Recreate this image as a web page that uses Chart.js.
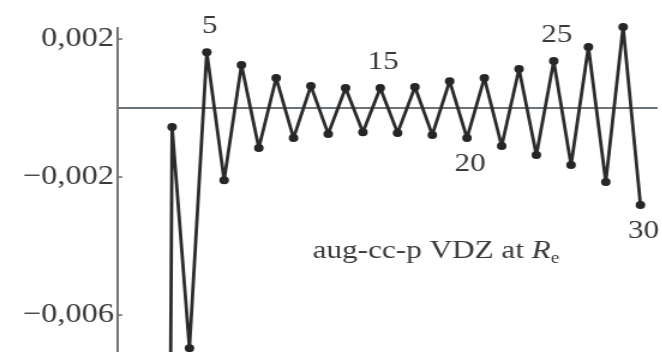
<!DOCTYPE html>
<html>
<head>
<meta charset="utf-8">
<script src="https://cdn.jsdelivr.net/npm/chart.js@4"></script>
<style>
  html, body { margin: 0; padding: 0; background: #fff; overflow: hidden; }
  /* the scanned figure is a bit wider than tall, so the canvas is stretched sideways */
  #wrap { width: 552px; height: 352px; transform: scaleX(1.2); transform-origin: 0 0; }
</style>
</head>
<body>
<div id="wrap"><canvas id="chart" width="552" height="352"></canvas></div>
<script>
// order of the term and its value (points 1 and 2 lie far below the frame)
const orders = [1, 2, 3, 4, 5, 6, 7, 8, 9, 10, 11, 12, 13, 14, 15,
                16, 17, 18, 19, 20, 21, 22, 23, 24, 25, 26, 27, 28, 29, 30];
const values = [-0.02, -0.08, -0.00055, -0.00696, 0.00162, -0.00209, 0.00125, -0.00116,
                0.00087, -0.00087, 0.00064, -0.00075, 0.00058, -0.00070, 0.00058, -0.00072,
                0.00061, -0.00078, 0.00078, -0.00087, 0.00087, -0.00110, 0.00113, -0.00136,
                0.00136, -0.00165, 0.00177, -0.00214, 0.00235, -0.00281];
const yTicks = [0.002, -0.002, -0.006];
// orders that get a number written next to them
const markedOrders = [5, 15, 20, 25, 30];
const markedSide = ['above', 'above', 'below', 'above', 'below'];
const captionText = 'aug-cc-p VDZ at ';
const captionSymbol = 'R';
const captionSub = 'e';

const serif = '"Liberation Serif", "DejaVu Serif", serif';

// tick marks pointing inward, point numbers and the caption
const extras = {
  id: 'extras',
  afterDatasetsDraw(chart) {
    const ctx = chart.ctx;
    const xs = chart.scales.x;
    const ys = chart.scales.y;
    const area = chart.chartArea;
    ctx.save();

    ctx.strokeStyle = '#6a6a6a';
    ctx.lineWidth = 1.5;
    yTicks.forEach(v => {
      const py = ys.getPixelForValue(v);
      ctx.beginPath();
      ctx.moveTo(area.left, py);
      ctx.lineTo(area.left + 4, py);
      ctx.stroke();
    });

    ctx.fillStyle = '#3a3a3a';
    ctx.font = '26px ' + serif;
    ctx.textAlign = 'center';
    ctx.textBaseline = 'middle';
    const pts = chart.getDatasetMeta(0).data;
    markedOrders.forEach((n, i) => {
      const p = pts[orders.indexOf(n)];
      const dy = markedSide[i] === 'above' ? -26 : 26;
      ctx.fillText(String(n), p.x + 2.5, p.y + dy);
    });

    // caption sits in the lower middle of the plot
    let cx = xs.getPixelForValue(11.1);
    const cy = ys.getPixelForValue(-0.00435);
    ctx.textAlign = 'left';
    ctx.textBaseline = 'alphabetic';
    ctx.font = '26px ' + serif;
    ctx.fillText(captionText, cx, cy);
    cx += ctx.measureText(captionText).width;
    ctx.font = 'italic 26px ' + serif;
    ctx.fillText(captionSymbol, cx, cy);
    cx += ctx.measureText(captionSymbol).width;
    ctx.font = '16px ' + serif;
    ctx.fillText(captionSub, cx, cy + 5);

    ctx.restore();
  }
};

new Chart(document.getElementById('chart'), {
  type: 'line',
  data: {
    datasets: [{
      data: orders.map((n, i) => ({ x: n, y: values[i] })),
      borderColor: '#2b2b2b',
      borderWidth: 2.8,
      borderJoinStyle: 'round',
      borderCapStyle: 'round',
      pointRadius: 4,
      pointBackgroundColor: '#262626',
      pointBorderWidth: 0,
      tension: 0,
      clip: false
    }]
  },
  options: {
    responsive: false,
    animation: false,
    devicePixelRatio: 1,
    layout: { autoPadding: false, padding: { top: 28, right: 5, left: 0, bottom: 0 } },
    plugins: {
      legend: { display: false },
      tooltip: { enabled: false }
    },
    scales: {
      x: {
        type: 'linear',
        min: -0.14,
        max: 30.92,
        position: { y: 0 },
        grid: { display: false },
        ticks: { display: false },
        border: { display: true, color: '#6b7378', width: 2 },
        afterFit: scale => {
          scale.height = 0;
          scale.paddingLeft = 0;
          scale.paddingRight = 0;
        }
      },
      y: {
        min: -0.00707,
        max: 0.00232,
        afterBuildTicks: scale => {
          scale.ticks = yTicks.map(v => ({ value: v }));
        },
        afterFit: scale => {
          scale.width = 98;
          scale.paddingTop = 0;
          scale.paddingBottom = 0;
        },
        grid: { display: false },
        border: { display: true, color: '#777777', width: 2 },
        ticks: {
          padding: -5,
          color: '#3a3a3a',
          font: { family: serif, size: 27 },
          callback: v => v.toFixed(3).replace('.', ',').replace('-', '\u2212')
        }
      }
    }
  },
  plugins: [extras]
});
</script>
</body>
</html>
